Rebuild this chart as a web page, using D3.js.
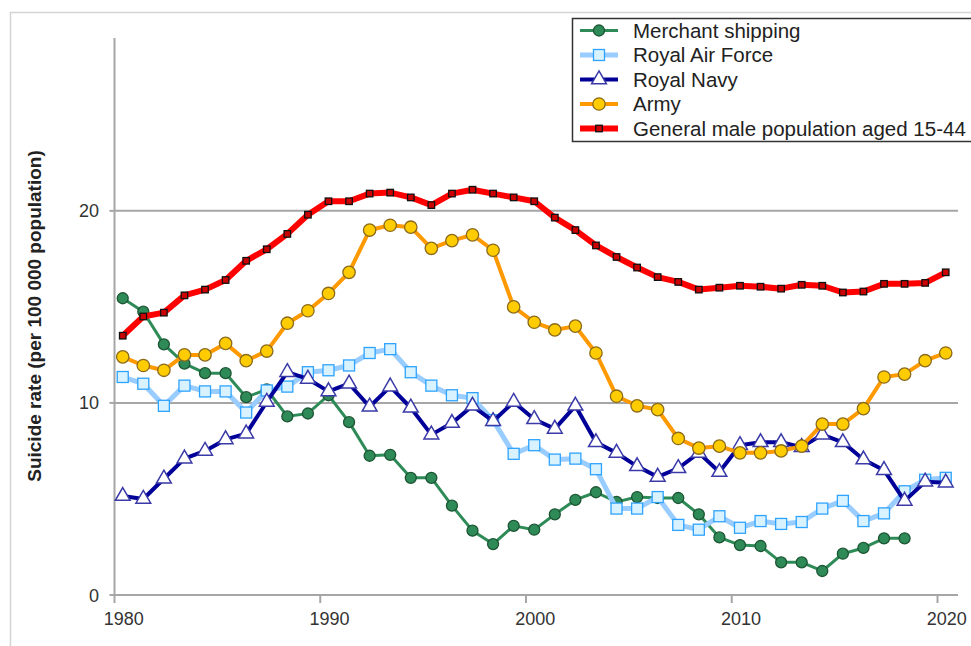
<!DOCTYPE html>
<meta charset="utf-8">
<style>
body { margin: 0; background: #fff; }
text { font-family: "Liberation Sans", Arial, sans-serif; }
.tick-label { font-size: 18px; fill: #333; }
.legend text { font-size: 20.5px; fill: #222; }
</style>
<svg width="971" height="646"></svg>
<script src="https://cdn.jsdelivr.net/npm/d3@7"></script>
<script>

var years = d3.range(1980, 2021);

var merchant = [15.45, 14.75, 13.05, 12.05, 11.55, 11.55, 10.3, 10.7, 9.3, 9.45,
  10.4, 9.0, 7.25, 7.3, 6.1, 6.1, 4.65, 3.35, 2.65, 3.6,
  3.4, 4.2, 4.95, 5.35, 4.85, 5.1, 5.05, 5.05, 4.2, 3.0,
  2.6, 2.55, 1.7, 1.7, 1.25, 2.15, 2.45, 2.95, 2.95];

var raf = [11.35, 11.0, 9.85, 10.9, 10.6, 10.6, 9.5, 10.65, 10.85, 11.6,
  11.7, 11.95, 12.6, 12.8, 11.6, 10.9, 10.4, 10.25, 9.1, 7.35,
  7.8, 7.05, 7.1, 6.55, 4.5, 4.5, 5.1, 3.65, 3.4, 4.1,
  3.5, 3.85, 3.7, 3.8, 4.5, 4.9, 3.85, 4.25, 5.4, 6.0, 6.1];

var navy = [5.15, 5.0, 6.05, 7.1, 7.5, 8.1, 8.4, 10.05, 11.6, 11.25,
  10.6, 11.0, 9.8, 10.85, 9.75, 8.35, 8.95, 9.85, 9.05, 10.05,
  9.15, 8.65, 9.85, 7.95, 7.4, 6.7, 6.15, 6.6, 7.4, 6.4,
  7.8, 7.95, 7.95, 7.7, 8.35, 7.95, 7.05, 6.5, 4.9, 5.9, 5.85];

var army = [12.4, 11.95, 11.7, 12.5, 12.5, 13.1, 12.2, 12.7, 14.15, 14.8,
  15.7, 16.8, 19.0, 19.25, 19.15, 18.05, 18.45, 18.75, 17.95, 15.0,
  14.2, 13.8, 14.0, 12.6, 10.35, 9.85, 9.65, 8.15, 7.65, 7.75,
  7.4, 7.4, 7.5, 7.75, 8.9, 8.9, 9.7, 11.35, 11.5, 12.2, 12.6];

var general = [13.5, 14.5, 14.7, 15.6, 15.9, 16.4, 17.4, 18.0, 18.8, 19.8,
  20.5, 20.5, 20.9, 20.95, 20.7, 20.3, 20.9, 21.1, 20.9, 20.7,
  20.5, 19.65, 19.0, 18.2, 17.6, 17.05, 16.55, 16.3, 15.9, 16.0,
  16.1, 16.05, 15.95, 16.15, 16.1, 15.75, 15.8, 16.2, 16.2, 16.25, 16.8];

var xTicks = [1980, 1990, 2000, 2010, 2020];
var yTicks = [0, 10, 20];

var series = [
  {name: "Merchant shipping", values: merchant, line: "#2e8b57", width: 3,
   marker: "circle", r: 5.5, fill: "#2e8b57", stroke: "#1d5534"},
  {name: "Royal Air Force", values: raf, line: "#99ccff", width: 5,
   marker: "square", size: 11, fill: "#d8f3ff", stroke: "#2ea3ff"},
  {name: "Royal Navy", values: navy, line: "#000099", width: 4,
   marker: "triangle", size: 95, fill: "#ffffff", stroke: "#3a3aa8"},
  {name: "Army", values: army, line: "#ff9900", width: 4,
   marker: "circle", r: 6.2, fill: "#ffcc00", stroke: "#8a6a1c"},
  {name: "General male population aged 15-44", values: general, line: "#ff0000", width: 6,
   marker: "square", size: 6.5, fill: "#cc0000", stroke: "#111"}
];

var svg = d3.select("svg");

// outer chart frame
svg.append("path")
    .attr("d", "M10.5,646V12.5H971")
    .attr("fill", "none")
    .attr("stroke", "#d4d4d4")
    .attr("stroke-width", 1.5);

var x = d3.scaleLinear().domain([1980, 2020]).range([114.5, 937.5]);
var y = d3.scaleLinear().domain([0, 29]).range([595, 38]);
var off = 0.4; // points sit a little right of the year ticks

// gridlines
svg.append("g")
  .selectAll("line")
  .data(yTicks.filter(function(d) { return d > 0; }))
  .enter().append("line")
    .attr("x1", x(1980)).attr("x2", 958)
    .attr("y1", y).attr("y2", y)
    .attr("stroke", "#a6a6a6")
    .attr("stroke-width", 2);

// y axis
var yAxis = svg.append("g");
yAxis.append("line")
    .attr("x1", x(1980)).attr("x2", x(1980))
    .attr("y1", y(29)).attr("y2", y(0))
    .attr("stroke", "#a6a6a6").attr("stroke-width", 2);
yAxis.selectAll(".yt")
  .data(yTicks)
  .enter().append("line")
    .attr("x1", x(1980) - 5).attr("x2", x(1980))
    .attr("y1", y).attr("y2", y)
    .attr("stroke", "#a6a6a6").attr("stroke-width", 2);
yAxis.selectAll("text")
  .data(yTicks)
  .enter().append("text")
    .attr("class", "tick-label")
    .attr("x", 99)
    .attr("y", function(d) { return y(d) + 6.5; })
    .attr("text-anchor", "end")
    .text(function(d) { return d; });

// x axis
var xAxis = svg.append("g");
xAxis.append("line")
    .attr("x1", x(1980)).attr("x2", 958)
    .attr("y1", y(0)).attr("y2", y(0))
    .attr("stroke", "#a6a6a6").attr("stroke-width", 2);
xAxis.selectAll(".xt")
  .data(xTicks)
  .enter().append("line")
    .attr("x1", x).attr("x2", x)
    .attr("y1", y(0)).attr("y2", y(0) + 8)
    .attr("stroke", "#a6a6a6").attr("stroke-width", 2);
xAxis.selectAll("text")
  .data(xTicks)
  .enter().append("text")
    .attr("class", "tick-label")
    .attr("x", function(d) { return x(d + 0.45); })
    .attr("y", 625)
    .attr("text-anchor", "middle")
    .text(function(d) { return d; });

svg.append("text")
    .attr("transform", "translate(41,316) rotate(-90)")
    .attr("text-anchor", "middle")
    .style("font-size", "19px")
    .style("font-weight", "bold")
    .attr("fill", "#222")
    .text("Suicide rate (per 100 000 population)");

function drawMarker(sel, s) {
  if (s.marker === "circle") {
    sel.append("circle").attr("r", s.r);
  } else if (s.marker === "square") {
    sel.append("rect")
      .attr("x", -s.size / 2).attr("y", -s.size / 2)
      .attr("width", s.size).attr("height", s.size);
  } else {
    sel.append("path").attr("d", d3.symbol(d3.symbolTriangle, s.size)());
  }
  sel.attr("fill", s.fill).attr("stroke", s.stroke)
    .attr("stroke-width", s.marker === "triangle" ? 1.5 : 1.3);
}

var line = d3.line()
    .x(function(d, i) { return x(years[i] + off); })
    .y(function(d) { return y(d); });

series.forEach(function(s) {
  var g = svg.append("g");
  g.append("path")
      .datum(s.values)
      .attr("d", line)
      .attr("fill", "none")
      .attr("stroke", s.line)
      .attr("stroke-width", s.width)
      .attr("stroke-linejoin", "round");
  g.selectAll("g")
    .data(s.values)
    .enter().append("g")
      .attr("transform", function(d, i) {
        return "translate(" + x(years[i] + off) + "," + y(d) + ")";
      })
      .each(function() { drawMarker(d3.select(this), s); });
});

// legend
var legend = svg.append("g").attr("class", "legend");
legend.append("rect")
    .attr("x", 572.5).attr("y", 18.5)
    .attr("width", 420).attr("height", 123)
    .attr("fill", "#fff")
    .attr("stroke", "#333")
    .attr("stroke-width", 1.5);

series.forEach(function(s, i) {
  var ly = 30.5 + i * 24.5;
  legend.append("line")
      .attr("x1", 580).attr("x2", 618)
      .attr("y1", ly).attr("y2", ly)
      .attr("stroke", s.line)
      .attr("stroke-width", s.width);
  var m = legend.append("g").attr("transform", "translate(599," + ly + ")");
  drawMarker(m, s);
  legend.append("text")
      .attr("x", 633)
      .attr("y", ly + 7)
      .text(s.name);
});

</script>
